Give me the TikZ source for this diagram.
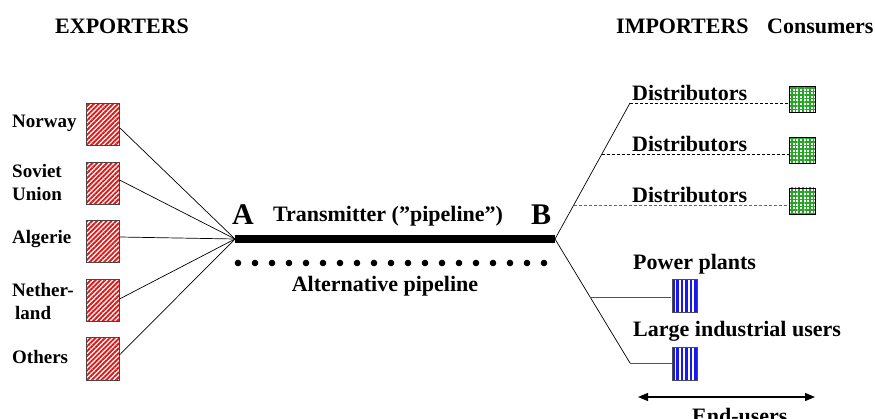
\documentclass[tikz,border=0pt]{standalone}
\usepackage{fontspec}
\setmainfont{Liberation Serif}
\usetikzlibrary{patterns.meta,arrows.meta,calc}
\definecolor{stripered}{RGB}{220,25,25}
\definecolor{dotgreen}{RGB}{40,165,40}
\definecolor{stripeblue}{RGB}{25,25,235}
\begin{document}
\begin{tikzpicture}[x=1pt,y=-1pt,
  txt/.style={font=\bfseries\fontsize{22}{24}\selectfont,inner sep=0,anchor=base west},
  ctry/.style={font=\bfseries\fontsize{19}{23}\selectfont,inner sep=0,align=left,anchor=base west},
  big/.style={font=\bfseries\fontsize{30}{32}\selectfont,inner sep=0,anchor=base},
  exbox/.style={draw=gray!55!black,line width=1pt,minimum width=33pt,minimum height=42pt,inner sep=0,
    pattern={Lines[angle=45,distance=3.4pt,line width=1.9pt]},pattern color=stripered},
  grbox/.style={draw=black,line width=0.8pt,minimum width=26pt,minimum height=26pt,inner sep=0,
    pattern={Hatch[angle=0,distance=3.6pt,line width=1.6pt]},pattern color=dotgreen},
  blbox/.style={draw=gray!60!black,line width=1pt,minimum width=25pt,minimum height=33pt,inner sep=0,
    pattern={Lines[angle=90,distance=4.4pt,line width=2.6pt]},pattern color=stripeblue},
  conn/.style={draw=black,line width=0.7pt},
  gconn/.style={draw=gray!65!black,line width=0.9pt},
  dconn/.style={draw=black,line width=0.8pt,dash pattern=on 3pt off 2pt},
  pdot/.style={fill=black},
]
\useasboundingbox (0,0) rectangle (875,419);

% headers
\node[txt] (ex) at (55,34) {EXPORTERS};
\node[txt] (im) at (616,34) {IMPORTERS};
\node[txt] (co) at (767,34) {Consumers};

% exporters
\node[exbox] (e1) at (102.5,125) {};
\node[exbox] (e2) at (102.5,184) {};
\node[exbox] (e3) at (102.5,242) {};
\node[exbox] (e4) at (102.5,301) {};
\node[exbox] (e5) at (102.5,359) {};
\node[ctry] (n1) at (12,128) {Norway};
\node[ctry,anchor=north west] (n2) at (12,164) {Soviet\\Union};
\node[ctry] (n3) at (12,244) {Algerie};
\node[ctry,anchor=north west] (n4) at (12,283) {Nether-\\\hspace{3pt}land};
\node[ctry] (n5) at (12,363) {Others};

% pipeline
\coordinate (pA) at (235,239);
\coordinate (pB) at (555,239);
\draw[conn] ([yshift=-3pt]e1.east) -- (pA);
\draw[conn] ([yshift=4pt]e2.east) -- (pA);
\draw[conn] ([yshift=5pt]e3.east) -- (pA);
\draw[conn] ([yshift=2pt]e4.east) -- (pA);
\draw[conn] ([yshift=4pt]e5.east) -- (pA);
\draw[line width=8pt] (pA) -- (pB);
\node[big] (lA) at (243,225) {A};
\node[big] (lB) at (541,225) {B};
\node[txt,anchor=base] (tr) at (388,222) {Transmitter (”pipeline”)};
\foreach \i in {0,...,18} {
  \fill[pdot] (238+17*\i,263) circle (3.3);
}
\node[txt,anchor=base] (alt) at (385,292) {Alternative pipeline};

% distributors
\coordinate (u1) at (630,103);
\coordinate (u2) at ($(pB)!0.625!(u1)$);
\coordinate (u3) at ($(pB)!0.25!(u1)$);
\node[grbox] (g1) at (802,99.5) {};
\node[grbox] (g2) at (802,150.5) {};
\node[grbox] (g3) at (802,201) {};
\draw[conn] (pB) -- (u1);
\draw[dconn] (u1) -- (u1 -| g1.west);
\draw[dconn] (u2) -- (u2 -| g2.west);
\draw[dconn,draw=gray!80!black] (u3) -- (u3 -| g3.west);
\node[txt] (t1) at (632,101) {Distributors};
\node[txt] (t2) at (632,152) {Distributors};
\node[txt] (t3) at (632,203) {Distributors};

% end users
\coordinate (l2) at (630,363);
\coordinate (l1) at ($(pB)!0.468!(l2)$);
\node[blbox] (b1) at (684.5,296.5) {};
\node[blbox] (b2) at (684.5,364) {};
\draw[conn] (pB) -- (l2);
\draw[gconn] (l2) -- (l2 -| b2.west);
\draw[gconn] (l1) -- (l1 -| b1.west);
\node[txt] (pp) at (633,270) {Power plants};
\node[txt] (li) at (633,337) {Large industrial users};
\coordinate (a1) at (638,397);
\coordinate (a2) at (815,397);
\draw[{Triangle[length=10pt,width=8pt]}-{Triangle[length=10pt,width=8pt]},line width=1.2pt] (a1) -- (a2);
\node[txt] (eu) at (692,423) {End-users};
\end{tikzpicture}
\end{document}
